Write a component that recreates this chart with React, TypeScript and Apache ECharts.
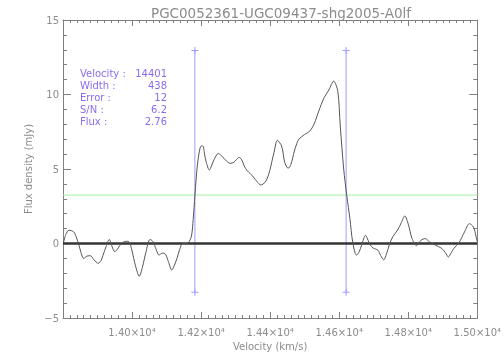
import React, { useEffect, useRef } from 'react';
import * as echarts from 'echarts';

const titleText = 'PGC0052361-UGC09437-shg2005-A0lf';
const xName = 'Velocity (km/s)';
const yName = 'Flux density (mJy)';

const velocities = [
  13802, 13808, 13817, 13831, 13838, 13845, 13852, 13860, 13869, 13879, 13890, 13902, 13910, 13916,
  13925, 13934, 13942, 13950, 13960, 13969, 13983, 13992, 14000, 14010, 14021, 14030, 14040, 14052,
  14060, 14070, 14078, 14087, 14095, 14105, 14115, 14122, 14130, 14138, 14146, 14155, 14163, 14172,
  14177, 14182, 14189, 14198, 14205, 14210, 14215, 14224, 14230, 14237, 14250, 14258, 14267, 14275,
  14284, 14295, 14303, 14310, 14318, 14325, 14333, 14342, 14352, 14362, 14373, 14385, 14392, 14399,
  14405, 14411, 14421, 14433, 14438, 14442, 14452, 14460, 14470, 14477, 14483, 14499, 14515, 14527,
  14535, 14541, 14556, 14570, 14584, 14596, 14603, 14613, 14622, 14631, 14639, 14650, 14657, 14665,
  14676, 14684, 14690, 14698, 14712, 14720, 14729, 14737, 14745, 14755, 14769, 14780, 14790, 14800,
  14811, 14824, 14837, 14849, 14862, 14878, 14897, 14907, 14916, 14925, 14932, 14947, 14963, 14977,
  14989, 14996, 15000,
];
const fluxes = [
  0.1, 0.6, 0.89, 0.78, 0.45, 0.0, -0.6, -1.0, -0.85, -0.82, -1.1, -1.33, -1.15, -0.78,
  -0.2, 0.27, -0.2, -0.55, -0.3, 0.0, 0.15, 0.1, -0.5, -1.5, -2.2, -1.6, -0.6, 0.27,
  0.15, -0.4, -0.78, -0.65, -0.67, -1.2, -1.78, -1.5, -1.0, -0.4, 0.0, 0.0, 0.05, 0.5,
  1.6, 3.2, 5.2, 6.5, 6.55, 6.0, 5.45, 4.93, 5.2, 5.6, 6.05, 5.9, 5.7, 5.5,
  5.38, 5.45, 5.65, 5.78, 5.6, 5.2, 4.9, 4.7, 4.45, 4.15, 3.93, 4.1, 4.4, 4.9,
  5.5, 6.1, 6.93, 6.55, 6.0, 5.45, 5.05, 5.3, 6.2, 6.7, 7.0, 7.3, 7.55, 8.0,
  8.5, 8.9, 9.78, 10.3, 10.9, 10.2, 7.9, 5.0, 3.2, 1.67, 0.1, -0.78, -0.6, -0.1,
  0.55, 0.2, -0.1, -0.3, -0.45, -0.8, -1.1, -0.7, -0.1, 0.45, 0.9, 1.4, 1.85, 1.3,
  0.33, -0.15, 0.22, 0.33, 0.1, -0.1, -0.33, -0.6, -0.9, -0.6, -0.33, 0.05, 0.78, 1.33,
  1.1, 0.5, 0.1,
];

const xMin = 13800;
const xMax = 15000;
const xInterval = 200;
const yMin = -5;
const yMax = 15;
const yInterval = 5;

const zeroLevel = 0;
const thresholdLevel = 3.25;
const edgeVelocities = [14182, 14620];
const edgeLow = -3.27;
const edgeHigh = 12.95;

const statLabels = ['Velocity :', 'Width :', 'Error :', 'S/N :', 'Flux :'];
const statValues = ['14401', '438', '12', '6.2', '2.76'];

const FONT = '"DejaVu Sans", sans-serif';
const GREY = '#8c8c8c';
const FRAME = '#7f7f7f';
const PURPLE = '#8a6cf0';
const EDGE = '#9d9dff';
const PLUS = 'path://M3,0L4,0L4,3L7,3L7,4L4,4L4,7L3,7L3,4L0,4L0,3L3,3Z';

function xAxisCfg(position: 'top' | 'bottom', withLabels: boolean): any {
  return {
    type: 'value',
    position,
    min: xMin,
    max: xMax,
    interval: xInterval,
    axisLine: { show: true, onZero: false, lineStyle: { color: FRAME, width: 1 } },
    axisTick: { show: true, inside: true, length: 6, lineStyle: { color: FRAME } },
    minorTick: { show: true, splitNumber: 10, length: 3, lineStyle: { color: FRAME } },
    splitLine: { show: false },
    minorSplitLine: { show: false },
    axisLabel: withLabels
      ? {
          show: true,
          showMinLabel: false,
          color: GREY,
          fontSize: 10,
          fontFamily: FONT,
          margin: 9,
          formatter: (v: number) => (v / 10000).toFixed(2) + '×10⁴',
        }
      : { show: false },
  };
}

function yAxisCfg(position: 'left' | 'right', withLabels: boolean): any {
  return {
    type: 'value',
    position,
    min: yMin,
    max: yMax,
    interval: yInterval,
    axisLine: { show: true, onZero: false, lineStyle: { color: FRAME, width: 1 } },
    axisTick: { show: true, inside: true, length: 8, lineStyle: { color: FRAME } },
    minorTick: { show: true, splitNumber: 5, length: 4, lineStyle: { color: FRAME } },
    splitLine: { show: false },
    minorSplitLine: { show: false },
    axisLabel: withLabels
      ? {
          show: true,
          color: GREY,
          fontSize: 10,
          fontFamily: FONT,
          margin: 4,
          formatter: (v: number) => (v < 0 ? '−' + Math.abs(v) : String(v)),
        }
      : { show: false },
  };
}

export default function App() {
  const ref = useRef<HTMLDivElement>(null);
  useEffect(() => {
    if (!ref.current) return;
    const chart = echarts.init(ref.current, null, { renderer: 'svg' });
    const graphics: any[] = [];
    statLabels.forEach((lab, i) => {
      graphics.push({
        type: 'text',
        left: 80,
        top: 68 + i * 12,
        style: { text: lab, fill: PURPLE, font: `10px ${FONT}` },
      });
      graphics.push({
        type: 'text',
        x: 167,
        y: 68 + i * 12,
        style: { text: statValues[i], fill: PURPLE, font: `10px ${FONT}`, align: 'right', verticalAlign: 'top' },
      });
    });
    chart.setOption({
      animation: false,
      title: {
        text: titleText,
        left: 276,
        top: 1,
        textAlign: 'center',
        textStyle: { color: GREY, fontSize: 13.5, fontWeight: 'normal', fontFamily: FONT },
      },
      grid: { left: 63, right: 19, top: 20, bottom: 42 },
      xAxis: [
        {
          ...xAxisCfg('bottom', true),
          name: xName,
          nameLocation: 'middle',
          nameGap: 20,
          nameTextStyle: { color: GREY, fontSize: 10, fontFamily: FONT },
        },
        xAxisCfg('top', false),
      ],
      yAxis: [
        {
          ...yAxisCfg('left', true),
          name: yName,
          nameLocation: 'middle',
          nameGap: 26,
          nameTextStyle: { color: GREY, fontSize: 10, fontFamily: FONT },
        },
        yAxisCfg('right', false),
      ],
      series: [
        {
          type: 'line',
          xAxisIndex: 1,
          yAxisIndex: 1,
          data: [[xMin, thresholdLevel], [xMax, thresholdLevel]],
          symbol: 'none',
          lineStyle: { color: '#a4f0a4', width: 1 },
          z: 1,
        },
        ...edgeVelocities.map((v) => ({
          type: 'line',
          data: [[v, edgeLow], [v, edgeHigh]],
          symbol: PLUS,
          symbolSize: 7,
          itemStyle: { color: EDGE },
          lineStyle: { color: EDGE, width: 1 },
          z: 2,
        })),
        {
          type: 'line',
          data: [[xMin, zeroLevel], [xMax, zeroLevel]],
          symbol: 'none',
          lineStyle: { color: '#333333', width: 2.5 },
          z: 3,
        },
        {
          type: 'line',
          data: velocities.map((v, i) => [v, fluxes[i]]),
          symbol: 'none',
          smooth: 0.3,
          lineStyle: { color: '#555555', width: 1 },
          z: 4,
        },
      ],
      graphic: graphics,
    });
    return () => chart.dispose();
  }, []);
  return <div ref={ref} style={{ position: 'fixed', left: 0, top: 0, width: 504, height: 360 }} />;
}
